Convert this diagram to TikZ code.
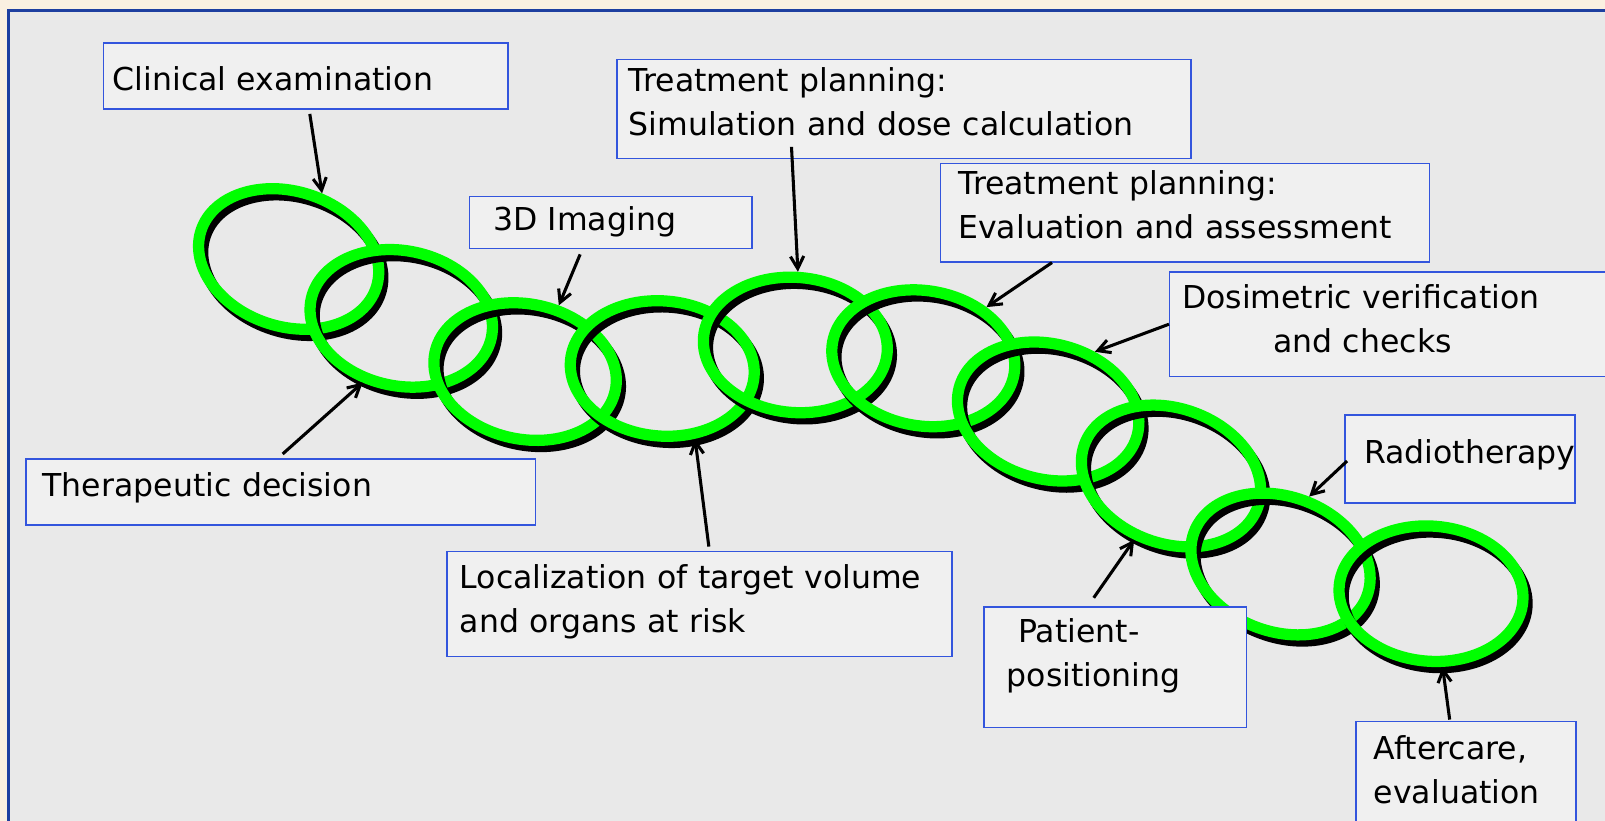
\documentclass[tikz,border=0pt]{standalone}
\usepackage{fontspec}
\setmainfont{DejaVu Sans}
\usepackage{xcolor}
\usepackage{tikz}
\usetikzlibrary{shapes.geometric, arrows.meta, calc}

\definecolor{cream}{HTML}{FAF0E1}
\definecolor{panelgray}{HTML}{E9E9E9}
\definecolor{frameblue}{HTML}{1E3FA0}
\definecolor{boxblue}{HTML}{3355DD}
\definecolor{boxfill}{HTML}{F0F0F0}
\definecolor{ringgreen}{HTML}{00FF00}

\tikzset{
    ring/.style={ellipse, draw=ringgreen, line width=11pt, minimum width=180pt, minimum height=132pt, inner sep=0pt},
    ringshade/.style={ring, draw=black},
    stage/.style={draw=boxblue, fill=boxfill, line width=1.5pt, anchor=north west, align=left, inner ysep=0pt, font=\fontsize{30.8}{43}\selectfont},
    pointer/.style={-{Straight Barb[length=12pt, width=13pt]}, line width=3pt}
}

\begin{document}
\begin{tikzpicture}[x=1pt, y=1pt]
    \useasboundingbox (0,0) rectangle (1568,-802);
    % Slide background and frame
    \fill[cream] (0,0) rectangle (1568,-802);
    \draw[frameblue, fill=panelgray, line width=3pt] (8.5,-10) rectangle (1600,-840);

    % Chain of rings with drop shadow
    \foreach \n/\x/\y/\t in {1/282/253/18, 2/392/311/12, 3/513/363/12, 4/647/360/5, 5/777/337/5,
                             6/902/350/10, 7/1024/402/15, 8/1144/465/20, 9/1251/551/20, 10/1398/580/5} {
        \node[ringshade, rotate=-\t] (s\n) at (\x+4, -\y-6) {};
        \node[ring, rotate=-\t] (r\n) at (\x, -\y) {};
    }

    % Stages of the treatment chain
    \node[stage, inner xsep=9pt, text width=377pt, text height=45.9pt, text depth=18.5pt] (clin) at (100.4,-41.4) {Clinical examination};
    \node[stage, inner xsep=23pt, text width=230pt, text height=33.5pt, text depth=17.3pt] (imag) at (458,-191.2) {3D Imaging};
    \node[stage, inner xsep=11.5pt, text width=538pt, text height=31.4pt, text depth=65pt] (sim) at (602,-57.6) {Treatment planning:\\Simulation and dose calculation};
    \node[stage, inner xsep=17.5pt, text width=443pt, text height=30pt, text depth=66pt] (eval) at (918,-159) {Treatment planning:\\Evaluation and assessment};
    \node[stage, inner xsep=12pt, text width=454pt, text height=36pt, text depth=66pt] (dosi) at (1142,-265) {Dosimetric verification\\\hspace*{89pt}and checks};
    \node[stage, inner xsep=19pt, text width=187pt, text height=47.3pt, text depth=38.6pt] (radio) at (1313,-404.7) {Radiotherapy};
    \node[stage, inner xsep=16.6pt, text width=464.8pt, text height=37.1pt, text depth=27.4pt] (therap) at (24.4,-447.5) {Therapeutic decision};
    \node[stage, inner xsep=12.5pt, text width=468.5pt, text height=36pt, text depth=66.6pt] (loc) at (436,-538) {Localization of target volume\\and organs at risk};
    \node[stage, inner xsep=22.5pt, text width=211.5pt, text height=35pt, text depth=83pt] (pat) at (960.5,-592) {\hspace*{11pt}Patient-\\positioning};
    \node[stage, inner xsep=17.5pt, text width=180pt, text height=37pt, text depth=103pt] (after) at (1324,-704) {Aftercare,\\evaluation};

    % Pointers from the stages to the rings
    \draw[pointer] ($(clin.south)+(4,-4)$) -- (r1.81);
    \draw[pointer] ($(imag.south)+(-30,-5)$) -- (r3.75);
    \draw[pointer] ($(sim.south)+(-110,12)$) -- (r5.93);
    \draw[pointer] ($(eval.south)+(-130,0)$) -- (r6.49);
    \draw[pointer] (dosi.west) -- (r7.67);
    \draw[pointer] ($(radio.west)+(3,-2)$) -- (r9.87);
    \draw[pointer] ($(therap.north)+(2,4)$) -- (r2.251);
    \draw[pointer] ($(loc.north)+(9,4)$) -- (r4.300);
    \draw[pointer] ($(pat.north)+(-21,8)$) -- (r8.260);
    \draw[pointer] ($(after.north)+(-16,1)$) -- (r10.284);
\end{tikzpicture}
\end{document}
